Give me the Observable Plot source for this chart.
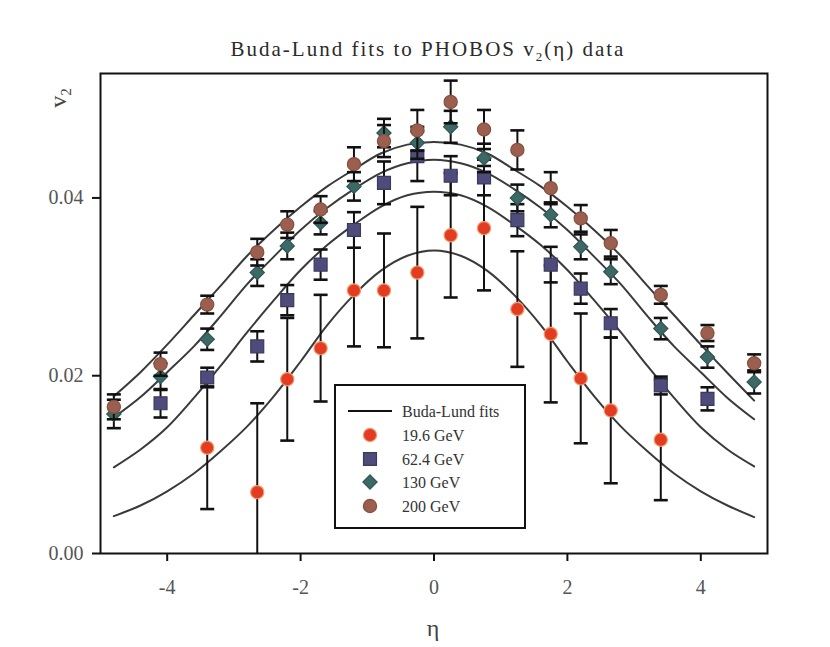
<!DOCTYPE html>
<html>
<head>
<meta charset="utf-8">
<script src="https://cdn.jsdelivr.net/npm/d3@7"></script>
<script src="https://cdn.jsdelivr.net/npm/@observablehq/plot@0.6"></script>
<style>
  html, body { margin: 0; padding: 0; background: #ffffff; }
  #chart { width: 830px; height: 647px; }
</style>
</head>
<body>
<div id="chart"></div>
<script>
// ---------- data ----------
const seriesNames = ["19.6 GeV", "62.4 GeV", "130 GeV", "200 GeV"];
const seriesColors = ["#e23c22", "#4e4c7a", "#3c6866", "#9c5e4e"];

const eta196 = [-3.4, -2.65, -2.2, -1.7, -1.2, -0.75, -0.25, 0.25, 0.75, 1.25, 1.75, 2.2, 2.65, 3.4];
const v196   = [0.0119, 0.0069, 0.0196, 0.0231, 0.0296, 0.0296, 0.0316, 0.0358, 0.0366, 0.0275, 0.0247, 0.0197, 0.0161, 0.0128];
const e196   = [0.0069, 0.0100, 0.0069, 0.0060, 0.0063, 0.0064, 0.0074, 0.0070, 0.0070, 0.0065, 0.0077, 0.0073, 0.0082, 0.0068];

const eta624 = [-4.1, -3.4, -2.65, -2.2, -1.7, -1.2, -0.75, -0.25, 0.25, 0.75, 1.25, 1.75, 2.2, 2.65, 3.4, 4.1];
const v624   = [0.0169, 0.0198, 0.0233, 0.0285, 0.0325, 0.0364, 0.0417, 0.0447, 0.0425, 0.0423, 0.0375, 0.0325, 0.0298, 0.0259, 0.0189, 0.0174];
const e624   = [0.0016, 0.0011, 0.0017, 0.0017, 0.0017, 0.0020, 0.0024, 0.0028, 0.0022, 0.0020, 0.0018, 0.0020, 0.0017, 0.0016, 0.0010, 0.0013];

const eta130 = [-4.8, -4.1, -3.4, -2.65, -2.2, -1.7, -1.2, -0.75, -0.25, 0.25, 0.75, 1.25, 1.75, 2.2, 2.65, 3.4, 4.1, 4.8];
const v130   = [0.0157, 0.0199, 0.0241, 0.0316, 0.0346, 0.0372, 0.0413, 0.0473, 0.0462, 0.0480, 0.0445, 0.0400, 0.0381, 0.0345, 0.0317, 0.0253, 0.0221, 0.0193];
const e130   = [0.0016, 0.0015, 0.0012, 0.0015, 0.0015, 0.0013, 0.0016, 0.0016, 0.0018, 0.0018, 0.0016, 0.0015, 0.0014, 0.0014, 0.0014, 0.0012, 0.0012, 0.0013];

const eta200 = [-4.8, -4.1, -3.4, -2.65, -2.2, -1.7, -1.2, -0.75, -0.25, 0.25, 0.75, 1.25, 1.75, 2.2, 2.65, 3.4, 4.1, 4.8];
const v200   = [0.0165, 0.0213, 0.0280, 0.0339, 0.0370, 0.0387, 0.0438, 0.0464, 0.0476, 0.0508, 0.0477, 0.0454, 0.0411, 0.0377, 0.0349, 0.0291, 0.0248, 0.0214];
const e200   = [0.0014, 0.0013, 0.0010, 0.0015, 0.0015, 0.0015, 0.0019, 0.0018, 0.0023, 0.0024, 0.0022, 0.0022, 0.0018, 0.0015, 0.0015, 0.0010, 0.0009, 0.0010];

// Buda-Lund fit curves
const fitEta = [-4.8, -4.4, -4.0, -3.6, -3.2, -2.8, -2.4, -2.0, -1.6, -1.2, -0.8, -0.4, 0, 0.4, 0.8, 1.2, 1.6, 2.0, 2.4, 2.8, 3.2, 3.6, 4.0, 4.4, 4.8];
const fit196 = [0.0042, 0.0054, 0.0070, 0.0090, 0.0115, 0.0143, 0.0177, 0.0216, 0.0257, 0.0291, 0.0318, 0.0335, 0.0341, 0.0335, 0.0318, 0.0291, 0.0257, 0.0216, 0.0177, 0.0143, 0.0115, 0.0090, 0.0070, 0.0054, 0.0041];
const fit624 = [0.0097, 0.0117, 0.0142, 0.0175, 0.0211, 0.0249, 0.0285, 0.0319, 0.0347, 0.0370, 0.0390, 0.0403, 0.0407, 0.0403, 0.0390, 0.0370, 0.0347, 0.0319, 0.0285, 0.0249, 0.0211, 0.0175, 0.0142, 0.0117, 0.0098];
const fit130 = [0.0153, 0.0176, 0.0204, 0.0233, 0.0267, 0.0303, 0.0334, 0.0364, 0.0389, 0.0410, 0.0428, 0.0439, 0.0443, 0.0439, 0.0428, 0.0410, 0.0389, 0.0364, 0.0334, 0.0303, 0.0267, 0.0233, 0.0204, 0.0175, 0.0151];
const fit200 = [0.0177, 0.0204, 0.0235, 0.0268, 0.0301, 0.0335, 0.0364, 0.0390, 0.0413, 0.0432, 0.0450, 0.0460, 0.0463, 0.0460, 0.0450, 0.0432, 0.0413, 0.0390, 0.0364, 0.0335, 0.0301, 0.0268, 0.0235, 0.0203, 0.0172];

const xTicks = [-4, -2, 0, 2, 4];
const yTicks = [0, 0.02, 0.04];

// ---------- tables ----------
const seriesData = [
  [eta196, v196, e196],
  [eta624, v624, e624],
  [eta130, v130, e130],
  [eta200, v200, e200]
];
const pts = seriesNames.map((name, k) =>
  seriesData[k][0].map((eta, i) => ({series: name, k, eta, v: seriesData[k][1][i], e: seriesData[k][2][i]}))
);
const fits = [fit196, fit624, fit130, fit200];
const fitRows = fits.flatMap((arr, k) => arr.map((v, i) => ({series: seriesNames[k], eta: fitEta[i], v})));

// ---------- symbols ----------
const capSymbol = { draw(ctx) { ctx.moveTo(-7, 0); ctx.lineTo(7, 0); } };
const symbols = ["circle", "square", "diamond2", "circle"];
const radii = [6.6, 7.3, 6.4, 6.6];
const strokes = ["#f39a6a", "#3b3a5e", "#2f5654", "#85503f"];

const serif = "'Liberation Serif', 'DejaVu Serif', serif";

const marks = [
  Plot.line(fitRows, {x: "eta", y: "v", z: "series", stroke: "#3a3a3a", strokeWidth: 2, curve: "catmull-rom"})
];
pts.forEach((rows, k) => {
  marks.push(
    Plot.ruleX(rows, {x: "eta", y1: d => d.v - d.e, y2: d => d.v + d.e, stroke: "#111", strokeWidth: 2, clip: true}),
    Plot.dot(rows, {x: "eta", y: d => d.v + d.e, symbol: capSymbol, fill: "none", stroke: "#111", strokeWidth: 2.6, clip: true}),
    Plot.dot(rows, {x: "eta", y: d => d.v - d.e, symbol: capSymbol, fill: "none", stroke: "#111", strokeWidth: 2.6, clip: true}),
    Plot.dot(rows, {x: "eta", y: "v", symbol: symbols[k], r: radii[k], fill: seriesColors[k], stroke: strokes[k], strokeWidth: 1.2})
  );
});
marks.push(
  Plot.frame({stroke: "#111", strokeWidth: 2}),
  Plot.axisX({ticks: xTicks, tickSize: 8, tickPadding: 18, label: null, tickFormat: d => d < 0 ? "-" + Math.abs(d) : String(d)}),
  Plot.axisY({ticks: yTicks, tickSize: 8, tickPadding: 9, label: null, tickFormat: d3.format(".2f")})
);

const chart = Plot.plot({
  width: 830,
  height: 647,
  marginLeft: 100,
  marginRight: 63,
  marginTop: 73,
  marginBottom: 94,
  x: {domain: [-5, 5]},
  y: {domain: [0, 0.054]},
  style: {fontFamily: serif, fontSize: "20px", background: "#ffffff", color: "#111", overflow: "visible"},
  marks
});
document.getElementById("chart").appendChild(chart);

const svg = d3.select(chart);
svg.selectAll('[aria-label="x-axis tick"] path, [aria-label="y-axis tick"] path').attr("stroke-width", 2);
svg.selectAll('[aria-label="x-axis tick label"], [aria-label="y-axis tick label"]').attr("fill", "#555");

// title
const title = svg.append("text")
  .attr("x", 428).attr("y", 56)
  .attr("text-anchor", "middle")
  .attr("font-family", serif).attr("font-size", 21)
  .attr("letter-spacing", 2)
  .attr("fill", "#2a2a2a");
title.append("tspan").text("Buda-Lund fits to PHOBOS v");
title.append("tspan").attr("font-size", 13).attr("dy", 5).text("2");
title.append("tspan").attr("dy", -5).text("(η) data");

// axis labels
svg.append("text")
  .attr("x", 433).attr("y", 636)
  .attr("text-anchor", "middle")
  .attr("font-family", serif).attr("font-size", 24)
  .attr("fill", "#444")
  .text("η");
const yl = svg.append("text")
  .attr("transform", "translate(66,98) rotate(-90)")
  .attr("text-anchor", "middle")
  .attr("font-family", serif).attr("font-size", 24)
  .attr("fill", "#444");
yl.append("tspan").text("v");
yl.append("tspan").attr("font-size", 15).attr("dy", 5).text("2");

// legend
const lg = svg.append("g").attr("font-family", serif).attr("font-size", 16).attr("fill", "#333").attr("text-anchor", "start");
lg.append("rect").attr("x", 335).attr("y", 385).attr("width", 190).attr("height", 143)
  .attr("fill", "#fff").attr("stroke", "#111").attr("stroke-width", 2);
lg.append("line").attr("x1", 348).attr("x2", 392).attr("y1", 411).attr("y2", 411)
  .attr("stroke", "#111").attr("stroke-width", 2);
lg.append("text").attr("x", 402).attr("y", 411).attr("dy", "0.35em").attr("text-anchor", "start").text("Buda-Lund fits");
const d3Sym = [d3.symbolCircle, d3.symbolSquare, d3.symbolDiamond2, d3.symbolCircle];
const rowsY = [435, 459, 482, 506];
seriesNames.forEach((name, k) => {
  lg.append("path")
    .attr("transform", `translate(370,${rowsY[k]})`)
    .attr("d", d3.symbol(d3Sym[k], Math.PI * radii[k] * radii[k])())
    .attr("fill", seriesColors[k]).attr("stroke", strokes[k]).attr("stroke-width", 1.2);
  lg.append("text").attr("x", 402).attr("y", rowsY[k]).attr("dy", "0.35em").attr("text-anchor", "start").text(name);
});
</script>
</body>
</html>
